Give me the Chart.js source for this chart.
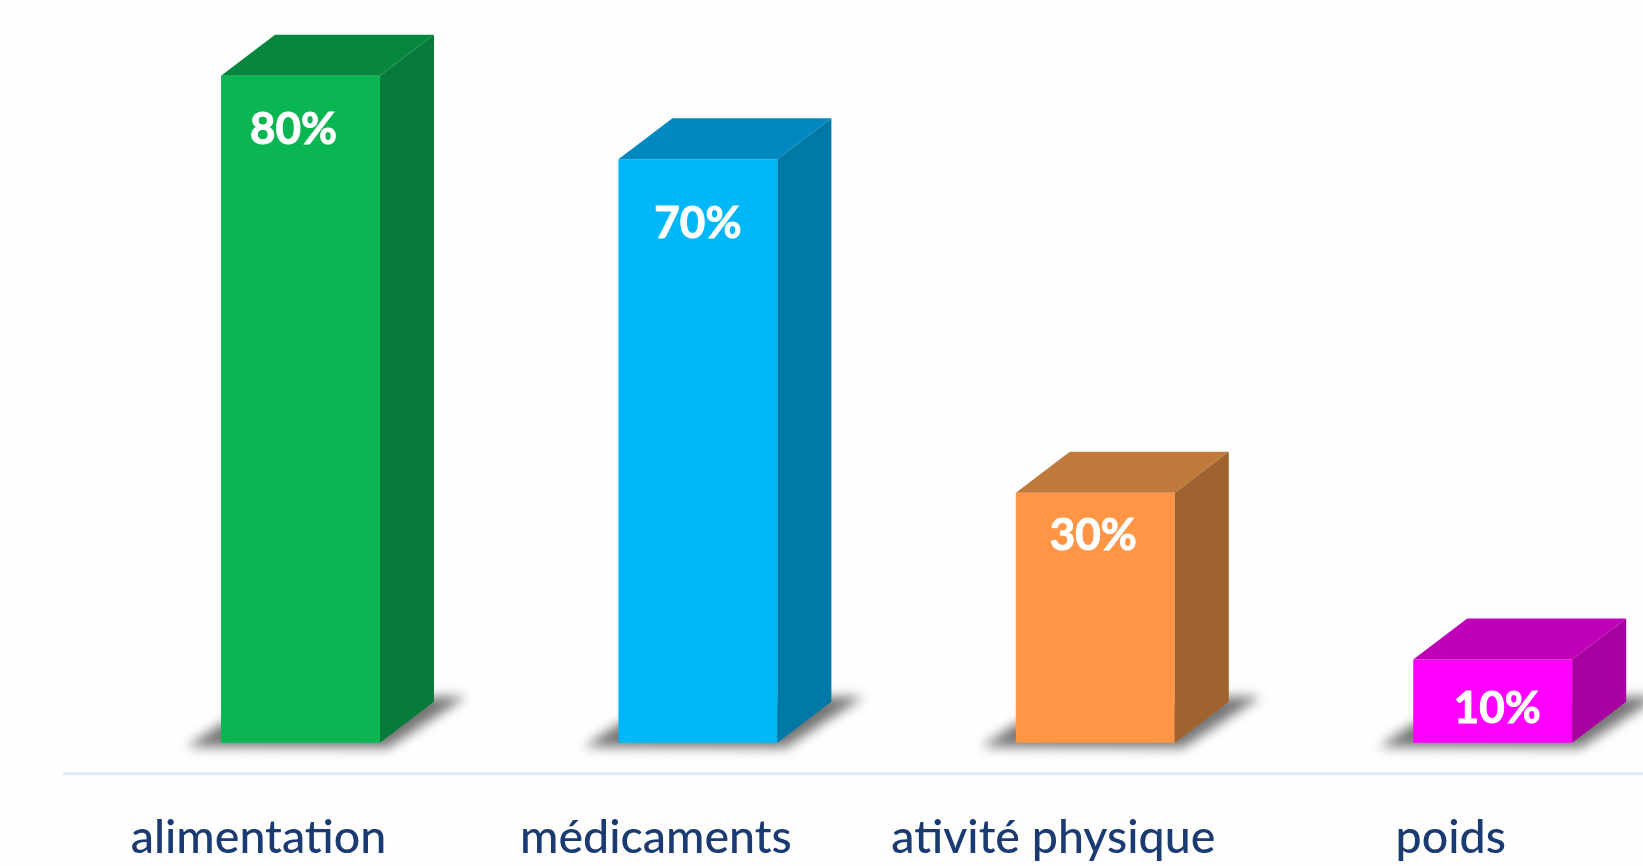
<!DOCTYPE html>
<html>
<head>
<meta charset="utf-8">
<style>
html,body{margin:0;padding:0;background:#fefefe;overflow:hidden;width:1643px;height:866px}
#wrap{position:absolute;left:0;top:0;width:1643px;height:866px;overflow:hidden}
canvas{display:block;filter:blur(0.6px)}
</style>
<script src="https://cdn.jsdelivr.net/npm/chart.js@4"></script>
</head>
<body>
<div id="wrap"><canvas id="c" width="1700" height="866"></canvas></div>
<script>
const categories = ['alimentation', 'médicaments', 'ativité physique', 'poids'];
const percentValues = [80, 70, 30, 10];
const frontColors = ['#0ab651', '#00b8f7', '#ff9545', '#ff00ff'];
const topColors = ['#07863d', '#0088c0', '#c07a3c', '#c000b8'];
const sideColors = ['#067a38', '#0078a6', '#a0622e', '#a800a0'];
const labelShiftX = [-7, 0, -2, 4.5];
const labelShiftY = [53.5, 64.5, 43, 49.8];

const DEPTH_X = 54, DEPTH_Y = 41;

function poly(ctx, pts, fill) {
  ctx.beginPath();
  pts.forEach((p, i) => i ? ctx.lineTo(p[0], p[1]) : ctx.moveTo(p[0], p[1]));
  ctx.closePath();
  ctx.fillStyle = fill;
  ctx.fill();
}

const box3d = {
  id: 'box3d',
  beforeDatasetsDraw(chart) {
    const ctx = chart.ctx;
    const yScale = chart.scales.y;
    const axisY = yScale.getPixelForValue(yScale.min);
    ctx.save();
    ctx.fillStyle = '#dfeafa';
    ctx.fillRect(63, axisY - 1.5, chart.width, 3);
    ctx.restore();
    chart.getDatasetMeta(0).data.forEach(bar => {
      const L = bar.x - bar.width / 2, R = bar.x + bar.width / 2, B = bar.base;
      ctx.save();
      ctx.filter = 'blur(6px)';
      poly(ctx, [[L - 34, B + 4], [L + 2, B - 20], [R + DEPTH_X, B - 46], [R + 86, B - 46], [R + 8, B + 5]], '#757575');
      ctx.restore();
    });
  },
  afterDatasetsDraw(chart) {
    const ctx = chart.ctx;
    chart.getDatasetMeta(0).data.forEach((bar, i) => {
      const L = bar.x - bar.width / 2, R = bar.x + bar.width / 2, T = bar.y, B = bar.base;
      poly(ctx, [[L, T], [L + DEPTH_X, T - DEPTH_Y], [R + DEPTH_X, T - DEPTH_Y], [R, T]], topColors[i]);
      poly(ctx, [[R, T], [R + DEPTH_X, T - DEPTH_Y], [R + DEPTH_X, B - DEPTH_Y], [R, B]], sideColors[i]);
      ctx.save();
      ctx.fillStyle = '#ffffff';
      ctx.strokeStyle = '#ffffff';
      ctx.lineWidth = 1;
      ctx.font = '700 44px Lato, Carlito, sans-serif';
      ctx.textAlign = 'center';
      ctx.textBaseline = 'middle';
      const text = percentValues[i] + '%';
      ctx.fillText(text, bar.x + labelShiftX[i], T + labelShiftY[i]);
      ctx.strokeText(text, bar.x + labelShiftX[i], T + labelShiftY[i]);
      ctx.restore();
    });
  }
};

new Chart(document.getElementById('c'), {
  type: 'bar',
  data: {
    labels: categories,
    datasets: [{
      data: percentValues,
      backgroundColor: frontColors,
      borderWidth: 0,
      categoryPercentage: 1,
      barPercentage: 0.4
    }]
  },
  options: {
    responsive: false,
    animation: false,
    devicePixelRatio: 1,
    layout: { padding: { left: 101.8, right: 8.6, top: 0, bottom: 0.5 } },
    plugins: { legend: { display: false }, title: { display: false }, tooltip: { enabled: false } },
    scales: {
      y: { display: false, min: -3.7, max: 89.1 },
      x: {
        grid: { display: false, drawTicks: true, tickLength: 36 },
        border: { display: false },
        ticks: {
          autoSkip: false, maxRotation: 0, minRotation: 0,
          labelOffset: -42,
          padding: 0,
          color: '#1a3a72',
          font: { family: 'Lato, Carlito, sans-serif', size: 46.5, weight: '500' }
        }
      }
    }
  },
  plugins: [box3d]
});
</script>
</body>
</html>
